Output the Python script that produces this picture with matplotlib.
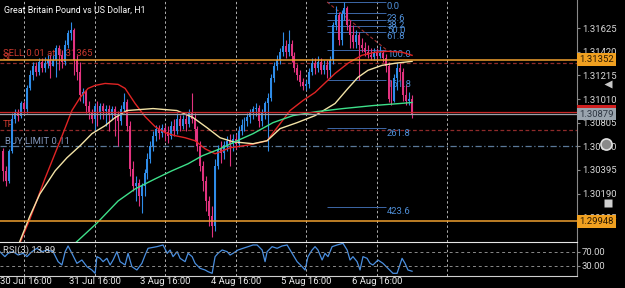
import matplotlib.pyplot as plt
import numpy as np

# ===================== GBPUSD H1 K线 (140根, 读图估计) =====================
first_open = 1.30561
closes = [1.30387, 1.30299, 1.30561, 1.30840, 1.30892, 1.30866, 1.30971, 1.30927, 1.31102, 1.31215,
          1.31293, 1.31241, 1.31328, 1.31276, 1.31320, 1.31346, 1.31293, 1.31346, 1.31450, 1.31389,
          1.31328, 1.31477, 1.31581, 1.31607, 1.31346, 1.31241, 1.31041, 1.31067, 1.30953, 1.30892,
          1.30840, 1.30953, 1.30892, 1.30945, 1.30910, 1.30927, 1.30884, 1.30927, 1.30866, 1.30823,
          1.30927, 1.30980, 1.30779, 1.30404, 1.30256, 1.30282, 1.30169, 1.30256, 1.30369, 1.30491,
          1.30605, 1.30692, 1.30753, 1.30718, 1.30762, 1.30727, 1.30692, 1.30779, 1.30735, 1.30840,
          1.30779, 1.30840, 1.30796, 1.30892, 1.30840, 1.30753, 1.30605, 1.30430, 1.30299, 1.30125,
          1.29994, 1.29907, 1.30430, 1.30578, 1.30544, 1.30613, 1.30648, 1.30622, 1.30666, 1.30622,
          1.30735, 1.30788, 1.30823, 1.30857, 1.30892, 1.30927, 1.30936, 1.30823, 1.30892, 1.30971,
          1.31023, 1.31189, 1.31293, 1.31346, 1.31416, 1.31468, 1.31416, 1.31485, 1.31381, 1.31276,
          1.31215, 1.31154, 1.31119, 1.31137, 1.31241, 1.31320, 1.31276, 1.31328, 1.31259, 1.31302,
          1.31259, 1.31346, 1.31651, 1.31738, 1.31520, 1.31747, 1.31799, 1.31651, 1.31564, 1.31503,
          1.31564, 1.31477, 1.31450, 1.31416, 1.31389, 1.31372, 1.31416, 1.31381, 1.31407, 1.31363,
          1.31293, 1.31014, 1.30997, 1.31189, 1.31276, 1.31241, 1.31041, 1.30997, 1.31014, 1.30879]
highs = [1.30587, 1.30430, 1.30578, 1.30892, 1.30927, 1.30927, 1.30997, 1.30997, 1.31128, 1.31259,
         1.31328, 1.31328, 1.31363, 1.31363, 1.31372, 1.31389, 1.31389, 1.31389, 1.31477, 1.31477,
         1.31433, 1.31520, 1.31607, 1.31677, 1.31625, 1.31389, 1.31328, 1.31102, 1.31084, 1.30997,
         1.30927, 1.30971, 1.30997, 1.30971, 1.30971, 1.30962, 1.30962, 1.30953, 1.30953, 1.30910,
         1.30962, 1.31058, 1.31014, 1.30823, 1.30474, 1.30343, 1.30317, 1.30282, 1.30404, 1.30544,
         1.30648, 1.30735, 1.30788, 1.30788, 1.30796, 1.30788, 1.30779, 1.30823, 1.30840, 1.30892,
         1.30875, 1.30875, 1.30892, 1.30927, 1.31058, 1.30892, 1.30779, 1.30648, 1.30474, 1.30343,
         1.30169, 1.30081, 1.30491, 1.30613, 1.30648, 1.30648, 1.30692, 1.30709, 1.30709, 1.30709,
         1.30779, 1.30840, 1.30857, 1.30892, 1.30927, 1.30953, 1.30971, 1.30962, 1.30927, 1.30997,
         1.31058, 1.31224, 1.31328, 1.31389, 1.31450, 1.31590, 1.31520, 1.31607, 1.31520, 1.31416,
         1.31311, 1.31259, 1.31189, 1.31171, 1.31276, 1.31363, 1.31363, 1.31381, 1.31363, 1.31346,
         1.31346, 1.31381, 1.31677, 1.31817, 1.31764, 1.31782, 1.31852, 1.31817, 1.31695, 1.31651,
         1.31607, 1.31590, 1.31538, 1.31503, 1.31477, 1.31450, 1.31450, 1.31450, 1.31468, 1.31433,
         1.31398, 1.31328, 1.31171, 1.31224, 1.31320, 1.31320, 1.31276, 1.31128, 1.31067, 1.31049]
lows = [1.30299, 1.30256, 1.30282, 1.30544, 1.30805, 1.30823, 1.30849, 1.30892, 1.30892, 1.31084,
        1.31171, 1.31206, 1.31215, 1.31241, 1.31241, 1.31276, 1.31189, 1.31302, 1.31198, 1.31259,
        1.31276, 1.31302, 1.31450, 1.31520, 1.31215, 1.31171, 1.30997, 1.30971, 1.30892, 1.30840,
        1.30805, 1.30735, 1.30779, 1.30840, 1.30840, 1.30779, 1.30735, 1.30840, 1.30692, 1.30605,
        1.30788, 1.30892, 1.30735, 1.30343, 1.30212, 1.30125, 1.30081, 1.30020, 1.30169, 1.30317,
        1.30456, 1.30561, 1.30648, 1.30666, 1.30683, 1.30648, 1.30631, 1.30666, 1.30692, 1.30709,
        1.30735, 1.30753, 1.30735, 1.30770, 1.30805, 1.30648, 1.30561, 1.30387, 1.30212, 1.30038,
        1.29907, 1.29811, 1.29863, 1.30404, 1.30456, 1.30491, 1.30561, 1.30430, 1.30561, 1.30578,
        1.30596, 1.30701, 1.30735, 1.30779, 1.30805, 1.30840, 1.30866, 1.30770, 1.30779, 1.30840,
        1.30561, 1.30997, 1.31154, 1.31259, 1.31311, 1.31381, 1.31363, 1.31381, 1.31328, 1.31241,
        1.31171, 1.31119, 1.31084, 1.31084, 1.31102, 1.31215, 1.31224, 1.31241, 1.31224, 1.31224,
        1.31189, 1.31189, 1.31311, 1.31607, 1.31477, 1.31477, 1.31695, 1.31607, 1.31450, 1.31450,
        1.31450, 1.31171, 1.31416, 1.31381, 1.31363, 1.31346, 1.31346, 1.31346, 1.31363, 1.31328,
        1.31241, 1.30980, 1.30962, 1.30980, 1.31084, 1.31171, 1.30997, 1.30962, 1.30962, 1.30849]

# ===================== 均线 (K线序号, 价格) =====================
ma_red_x = [4.5, 5.6, 9.0, 14.1, 19.3, 23.3, 26.1, 28.8, 31.2, 34.6, 39.0, 41.4, 44.8, 48.2, 51.6,
            55.0, 58.4, 61.8, 65.2, 68.6, 72.0, 77.1, 83.9, 89.7, 93.1, 97.5, 101.9, 106.0, 112.8,
            117.2, 121.9, 126.4, 130.8, 135.6, 139.0]
ma_red_y = [1.29700, 1.29759, 1.29968, 1.30317, 1.30648, 1.30910, 1.31023, 1.31102, 1.31128, 1.31145,
            1.31137, 1.31102, 1.30971, 1.30857, 1.30770, 1.30718, 1.30692, 1.30674, 1.30648, 1.30578,
            1.30535, 1.30587, 1.30613, 1.30648, 1.30762, 1.30910, 1.30997, 1.31067, 1.31232, 1.31320,
            1.31389, 1.31416, 1.31424, 1.31416, 1.31389]
ma_yel_x = [4.5, 5.6, 9.0, 12.4, 17.6, 21.6, 26.1, 30.1, 34.6, 38.0, 42.0, 50.9, 59.0, 64.5, 69.2,
            73.7, 78.1, 84.9, 89.7, 94.1, 99.9, 106.0, 112.8, 117.2, 120.6, 124.0, 128.8, 133.2, 139.0]
ma_yel_y = [1.29700, 1.29776, 1.29994, 1.30186, 1.30387, 1.30500, 1.30605, 1.30709, 1.30779, 1.30849,
            1.30910, 1.30927, 1.30910, 1.30849, 1.30762, 1.30674, 1.30639, 1.30622, 1.30648, 1.30753,
            1.30805, 1.30866, 1.30971, 1.31102, 1.31198, 1.31259, 1.31302, 1.31320, 1.31337]
ma_grn_x = [23.0, 24.4, 31.8, 39.0, 44.8, 51.6, 57.3, 62.8, 67.6, 73.7, 79.5, 84.9, 91.7, 98.5,
            106.7, 115.5, 125.7, 134.9, 139.0]
ma_grn_y = [1.29700, 1.29759, 1.29933, 1.30125, 1.30230, 1.30317, 1.30387, 1.30448, 1.30517, 1.30578,
            1.30648, 1.30709, 1.30805, 1.30866, 1.30901, 1.30927, 1.30953, 1.30971, 1.30980]

# ===================== RSI(3) =====================
rsi_x = [-1.2, 0.5, 1.6, 3.3, 5.0, 6.7, 8.0, 9.7, 11.4, 13.1, 14.8, 16.9, 18.6, 19.9, 21.0, 22.0,
         23.3, 25.0, 26.7, 28.4, 30.1, 31.2, 31.8, 32.9, 33.9, 35.2, 36.3, 37.3, 38.6, 39.7, 41.4,
         42.4, 43.7, 45.4, 47.1, 48.2, 49.2, 52.2, 54.3, 55.7, 56.7, 57.7, 59.1, 60.1, 61.8, 62.8,
         64.2, 65.2, 66.9, 68.6, 69.6, 71.0, 72.0, 73.0, 74.4, 76.1, 77.1, 78.1, 79.8, 81.5, 83.2,
         84.9, 86.3, 88.0, 89.0, 89.7, 91.4, 93.1, 94.8, 96.5, 98.2, 99.9, 101.6, 102.6, 103.6,
         105.0, 106.0, 107.0, 108.4, 109.4, 110.4, 111.8, 113.5, 115.5, 116.9, 117.9, 118.9, 120.3,
         121.3, 122.3, 123.7, 124.7, 125.7, 127.4, 129.1, 130.8, 132.5, 133.9, 135.6, 136.6, 137.6, 139.0]
rsi_v = [70.9, 56.4, 66.1, 70.9, 61.2, 66.1, 56.4, 70.9, 80.7, 70.9, 75.8, 70.9, 41.8, 32.1, 70.9, 87.5,
         66.1, 36.9, 46.6, 27.2, 17.5, 7.8, 56.4, 51.5, 41.8, 51.5, 32.1, 46.6, 70.9, 41.8, 32.1,
         66.1, 27.2, 17.5, 36.9, 61.2, 80.7, 85.5, 90.4, 66.1, 75.8, 56.4, 70.9, 51.5, 41.8, 66.1,
         56.4, 36.9, 22.3, 17.5, 12.6, 7.8, 56.4, 66.1, 75.8, 70.9, 61.2, 66.1, 75.8, 80.7, 85.5,
         90.4, 90.4, 75.8, 41.8, 70.9, 85.5, 80.7, 87.5, 90.4, 66.1, 41.8, 27.2, 17.5, 56.4,
         75.8, 85.5, 75.8, 46.6, 66.1, 56.4, 85.5, 90.4, 95.2, 75.8, 46.6, 56.4, 41.8,
         17.5, 56.4, 51.5, 36.9, 32.1, 46.6, 36.9, 22.3, 7.8, 7.8, 51.5, 36.9, 17.5, 13.89]

# ===================== 斐波那契 / 订单线 =====================
fib_levels = [0.0, 23.6, 38.2, 50.0, 61.8, 100.0, 161.8, 261.8, 423.6]
fib_high = 1.31852
fib_low = 1.31433
fib_start, fib_end = 110.1, 130.0

sell_price = 1.31365
order_line = 1.31352
sl_price = 1.31325
ask_price = 1.30897
bid_price = 1.30879
tp_price = 1.30744
buy_limit = 1.30600
low_line = 1.29948

yticks_main = [1.31625, 1.31420, 1.31215, 1.31010, 1.30805, 1.30600, 1.30395, 1.30190, 1.29985]
grid_idx = [7, 31, 55, 79, 103, 127, 151]
grid_labels = ['30 Jul 16:00', '31 Jul 16:00', '3 Aug 16:00', '4 Aug 16:00',
               '5 Aug 16:00', '6 Aug 16:00', '']

# ===================== 绘图 =====================
plt.rcParams['font.family'] = ['Roboto', 'DejaVu Sans']
FS = 6.8
BULL, BEAR = '#2f8ce8', '#e2337f'

fig = plt.figure(figsize=(6.25, 2.88), dpi=100, facecolor='black')
ax = fig.add_axes([0, 0.1608, 0.9232, 0.8392], facecolor='black')
ax2 = fig.add_axes([0, 0.0417, 0.9232, 0.1191], facecolor='black', sharex=ax)

idx = np.arange(len(closes))
c = np.array(closes)
o = np.array([first_open] + closes[:-1])
h = np.maximum(np.array(highs), np.maximum(o, c))
l = np.minimum(np.array(lows), np.minimum(o, c))
cols = [BULL if cc >= oo else BEAR for oo, cc in zip(o, c)]

ax.vlines(idx, l, h, colors=cols, linewidth=0.8, zorder=3)
ax.bar(idx, np.maximum(np.abs(c - o), 0.00003), bottom=np.minimum(o, c), width=0.66,
       color=cols, linewidth=0, zorder=3)

ax.plot(ma_red_x, ma_red_y, color='#e02424', lw=1.0, zorder=4)
ax.plot(ma_yel_x, ma_yel_y, color='#f3e3a6', lw=1.0, zorder=4)
ax.plot(ma_grn_x, ma_grn_y, color='#3ee08a', lw=1.0, zorder=4)

# 水平价位线
ax.axhline(order_line, color='#f0a030', lw=1.1, zorder=5)
ax.axhline(sl_price, color='#8e2a2a', lw=0.9, ls=(0, (3, 2)), zorder=2)
ax.axhline(ask_price, color='#c82828', lw=0.9, zorder=5)
ax.axhline(bid_price, color='#9aa2aa', lw=0.9, zorder=5)
ax.axhline(tp_price, color='#8e2a2a', lw=0.9, ls=(0, (3, 2)), zorder=2)
ax.axhline(buy_limit, color='#5a7898', lw=0.9, ls=(0, (5, 2, 1, 2)), zorder=2)
ax.axhline(low_line, color='#f0a030', lw=1.1, zorder=5)

tr = ax.get_yaxis_transform()
ax.text(0.005, sell_price, 'SELL 0.01 at 1.31365', transform=tr, color='#c8382e',
        fontsize=FS, va='bottom', zorder=1)
ax.text(0.005, sl_price + 0.00002, 'SL', transform=tr, color='#c8382e', fontsize=FS, va='bottom', zorder=1)
ax.text(0.005, tp_price + 0.00002, 'TP', transform=tr, color='#c8382e', fontsize=FS, va='bottom', zorder=1)
ax.text(0.008, buy_limit + 0.00002, 'BUY LIMIT 0.11', transform=tr, color='#8095b8',
        fontsize=FS, va='bottom', zorder=1)

# 斐波那契
rng = fib_high - fib_low
for lv in fib_levels:
    p = fib_high - lv / 100 * rng
    ax.hlines(p, fib_start, fib_end, color='#3d68a8', lw=0.7, zorder=2)
    ax.text(fib_end + 0.4, p - 0.00002, f'{lv:.1f}', color='#4f8fd8', fontsize=FS,
            va='top', ha='left', zorder=2)
ax.plot([fib_start, fib_end + 0.5], [fib_high, fib_low], color='#a03030', lw=0.8,
        ls=(0, (3, 2)), zorder=2)

ax.set_xlim(-1.16, 195.1)
ax.set_ylim(1.29772, 1.31869)

# 轴样式
for a in (ax, ax2):
    for s in a.spines.values():
        s.set_visible(False)
    a.spines['right'].set_visible(True)
    a.spines['right'].set_color('#8a8a8a')
    a.set_xticks(grid_idx)
    a.grid(True, axis='x', color='#b0b0b0', lw=0.7, ls=(0, (2.5, 2.5)))
    a.tick_params(axis='x', length=0, labelbottom=False)
    a.yaxis.tick_right()
    a.tick_params(axis='y', length=2.5, color='#8a8a8a', labelcolor='#d8d8d8',
                  labelsize=FS, pad=1)

ax.set_yticks(yticks_main)
ax.set_yticklabels([f'{v:.5f}' for v in yticks_main])

# 价格标签框
box = dict(boxstyle='square,pad=0.2', ec='none')
ax.text(1.004, order_line, f'{order_line:.5f}', transform=tr, fontsize=FS, va='center',
        color='#2a1800', bbox=dict(box, fc='#f0a020'), zorder=10, clip_on=False)
ax.text(1.004, ask_price + 0.00004, f'{ask_price:.5f}', transform=tr, fontsize=FS, va='center',
        color='#d02020', bbox=dict(box, fc='#d02020'), zorder=10, clip_on=False)
ax.text(1.004, bid_price, f'{bid_price:.5f}', transform=tr, fontsize=FS, va='center',
        color='#2c3440', bbox=dict(box, fc='#9aa4ae'), zorder=11, clip_on=False)
ax.text(1.004, low_line, f'{low_line:.5f}', transform=tr, fontsize=FS, va='center',
        color='#2a1800', bbox=dict(box, fc='#f0a020'), zorder=10, clip_on=False)

fig.text(4 / 625, 1 - 10 / 288, 'Great Britain Pound vs US Dollar, H1', color='white',
         fontsize=6.4, va='center', ha='left')

# RSI 面板
ax2.plot(rsi_x, rsi_v, color='#4a8fe0', lw=0.9)
ax2.axhline(70, color='#8a8a8a', lw=0.7, ls=(0, (3, 3)))
ax2.axhline(30, color='#8a8a8a', lw=0.7, ls=(0, (3, 3)))
ax2.set_ylim(0, 100)
ax2.set_yticks([70, 30])
ax2.set_yticklabels(['70.00', '30.00'])
ax2.spines['top'].set_visible(True)
ax2.spines['top'].set_color('#e6e6e6')
ax2.spines['bottom'].set_visible(True)
ax2.spines['bottom'].set_color('#d0d0d0')
ax2.text(0.005, 0.76, f'RSI(3) {rsi_v[-1]:.2f}', transform=ax2.transAxes, color='#d8d8d8',
         fontsize=FS, va='center')

# 时间标签 (第一个贴左边, 其余居中于网格线)
xtr = ax2.get_xaxis_transform()
for k, (gi, lab) in enumerate(zip(grid_idx, grid_labels)):
    if k == 0:
        ax2.text(0.0, -0.17, lab, transform=ax2.transAxes, color='#ececec', fontsize=FS,
                 ha='left', va='center')
    else:
        ax2.text(gi, -0.17, lab, transform=xtr, color='#ececec', fontsize=FS,
                 ha='center', va='center', clip_on=False)

# 右侧界面图标
ax.plot([608 / 625], [1 - 84 / 288], marker='<', ms=6, color='#c8c8c8', mec='none',
        transform=fig.transFigure, clip_on=False)
ax.plot([606 / 625], [1 - 144 / 288], marker='o', ms=8, mfc='#8a8a8a', mec='#e0e0e0',
        mew=1.2, transform=fig.transFigure, clip_on=False)
ax.plot([608 / 625], [1 - 203 / 288], marker='s', ms=6, color='#d0d0d0', mec='none',
        transform=fig.transFigure, clip_on=False)

fig.savefig('out.png', dpi=100, facecolor='black')
